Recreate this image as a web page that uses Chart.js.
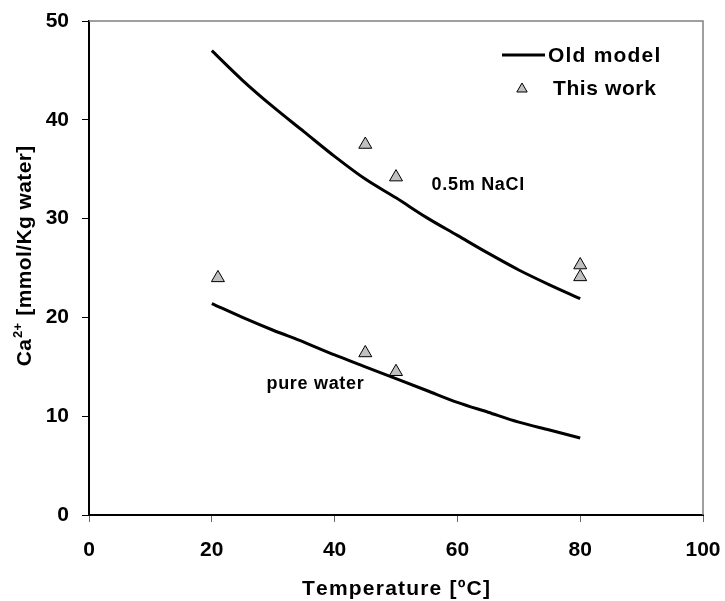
<!DOCTYPE html>
<html>
<head>
<meta charset="utf-8">
<script src="https://cdn.jsdelivr.net/npm/chart.js@4/dist/chart.umd.min.js"></script>
<style>
  html, body { margin: 0; padding: 0; background: #fff; }
  canvas { display: block; }
</style>
</head>
<body>
<canvas id="chart" width="725" height="601"></canvas>
<script>
// Model curves: Ca2+ solubility vs temperature
const modelTemps = [20, 25, 30, 35, 40, 45, 50, 55, 60, 65, 70, 75, 80];
const modelNaCl  = [47.0, 44.0, 41.3, 38.8, 36.3, 34.0, 32.1, 30.1, 28.3, 26.5, 24.8, 23.3, 21.9];
const modelPure  = [21.4, 20.0, 18.7, 17.5, 16.2, 15.0, 13.8, 12.6, 11.4, 10.4, 9.4, 8.6, 7.8];

// Measured points
const workTemps = [21, 45, 50, 45, 50, 80, 80];
const workCa    = [24.0, 16.4, 14.5, 37.5, 34.2, 25.3, 24.1];

// Axis ticks and text
const xTicks = [0, 20, 40, 60, 80, 100];
const yTicks = [0, 10, 20, 30, 40, 50];
const seriesNames = ['Old model', 'This work'];
const curveNames = ['0.5m NaCl', 'pure water'];
const xTitle = 'Temperature [\u00BAC]';
const yTitleParts = ['Ca', '2+', ' [mmol/Kg water]'];

const FONT = '"Liberation Sans", Arial, sans-serif';
const MARKER_FILL = '#c0c0c0';

const toXY = (xs, ys) => xs.map((v, i) => ({ x: v, y: ys[i] }));

function drawSpaced(ctx, text, x, y, spacing) {
  // draws text with extra spacing between letters, left-aligned
  let cx = x;
  for (const ch of text) {
    ctx.fillText(ch, cx, y);
    cx += ctx.measureText(ch).width + spacing;
  }
  return cx - x - spacing;
}
function spacedWidth(ctx, text, spacing) {
  let w = 0;
  for (const ch of text) w += ctx.measureText(ch).width + spacing;
  return w - spacing;
}

const decorations = {
  id: 'decorations',
  beforeDatasetsDraw(chart) {
    const { ctx, chartArea: a } = chart;
    ctx.save();
    ctx.strokeStyle = '#808080';
    ctx.lineWidth = 1.5;
    ctx.beginPath();
    ctx.moveTo(a.left, a.top);
    ctx.lineTo(a.right, a.top);
    ctx.lineTo(a.right, a.bottom);
    ctx.stroke();
    ctx.restore();
  },
  afterDraw(chart) {
    const { ctx, chartArea: a, scales: { x, y } } = chart;
    ctx.save();
    ctx.fillStyle = '#000';
    ctx.textBaseline = 'middle';
    ctx.textAlign = 'left';

    // curve annotations
    ctx.font = 'bold 18px ' + FONT;
    drawSpaced(ctx, curveNames[0], x.getPixelForValue(55.8), y.getPixelForValue(33.4), 0.7);
    drawSpaced(ctx, curveNames[1], x.getPixelForValue(28.9), y.getPixelForValue(13.3), 0.7);

    // legend
    ctx.strokeStyle = '#000';
    ctx.lineWidth = 3;
    ctx.beginPath();
    ctx.moveTo(502, 55);
    ctx.lineTo(545, 55);
    ctx.stroke();
    ctx.font = 'bold 21px ' + FONT;
    drawSpaced(ctx, seriesNames[0], 548, 56, 1.2);
    const r = 6;
    const tx = 522, ty = 89;
    ctx.beginPath();
    ctx.moveTo(tx, ty - r);
    ctx.lineTo(tx + r * Math.sin(2 * Math.PI / 3), ty - r * Math.cos(2 * Math.PI / 3));
    ctx.lineTo(tx + r * Math.sin(4 * Math.PI / 3), ty - r * Math.cos(4 * Math.PI / 3));
    ctx.closePath();
    ctx.fillStyle = MARKER_FILL;
    ctx.fill();
    ctx.lineWidth = 1;
    ctx.stroke();
    ctx.fillStyle = '#000';
    drawSpaced(ctx, seriesNames[1], 553, 89, 0.6);

    // x axis title
    ctx.textBaseline = 'alphabetic';
    ctx.font = 'bold 21px ' + FONT;
    const xw = spacedWidth(ctx, xTitle, 1.2);
    drawSpaced(ctx, xTitle, (a.left + a.right) / 2 - xw / 2, 595, 1.2);

    // y axis title (rotated, with superscript)
    ctx.translate(31, 0);
    ctx.rotate(-Math.PI / 2);
    const big = 'bold 21px ' + FONT, small = 'bold 13px ' + FONT;
    ctx.font = big;
    const w1 = spacedWidth(ctx, yTitleParts[0], 0.4);
    const w3 = spacedWidth(ctx, yTitleParts[2], 0.4);
    ctx.font = small;
    const w2 = spacedWidth(ctx, yTitleParts[1], 0.3);
    const total = w1 + w2 + w3 + 2;
    let pos = -(256 + total / 2);
    ctx.font = big;
    drawSpaced(ctx, yTitleParts[0], pos, 0, 0.4);
    pos += w1 + 1;
    ctx.font = small;
    drawSpaced(ctx, yTitleParts[1], pos, -9, 0.3);
    pos += w2 + 1;
    ctx.font = big;
    drawSpaced(ctx, yTitleParts[2], pos, 0, 0.4);
    ctx.restore();
  }
};

new Chart(document.getElementById('chart'), {
  type: 'line',
  data: {
    datasets: [
      {
        label: seriesNames[0],
        data: toXY(modelTemps, modelNaCl),
        borderColor: '#000',
        borderWidth: 3,
        pointRadius: 0,
        fill: false,
        cubicInterpolationMode: 'monotone'
      },
      {
        label: seriesNames[0],
        data: toXY(modelTemps, modelPure),
        borderColor: '#000',
        borderWidth: 3,
        pointRadius: 0,
        fill: false,
        cubicInterpolationMode: 'monotone'
      },
      {
        type: 'scatter',
        label: seriesNames[1],
        data: toXY(workTemps, workCa),
        pointStyle: 'triangle',
        pointRadius: 7.5,
        backgroundColor: MARKER_FILL,
        borderColor: '#000',
        borderWidth: 1,
        showLine: false
      }
    ]
  },
  options: {
    responsive: false,
    animation: false,
    events: [],
    layout: { padding: { top: 21, right: 22, left: 0, bottom: 0 } },
    plugins: { legend: { display: false }, tooltip: { enabled: false } },
    scales: {
      x: {
        type: 'linear',
        min: 0, max: 100,
        afterBuildTicks: s => { s.ticks = xTicks.map(v => ({ value: v })); },
        afterFit: s => { s.height = 86; s.paddingLeft = 0; s.paddingRight = 0; },
        border: { display: true, color: '#000', width: 2 },
        grid: { display: true, drawOnChartArea: false, drawTicks: true, tickLength: 7, color: '#666', lineWidth: 1 },
        ticks: { color: '#000', padding: 16, font: { family: FONT, size: 21, weight: 'bold' }, maxRotation: 0 }
      },
      y: {
        type: 'linear',
        min: 0, max: 50,
        afterBuildTicks: s => { s.ticks = yTicks.map(v => ({ value: v })); },
        afterFit: s => { s.width = 89; s.paddingTop = 0; s.paddingBottom = 0; },
        border: { display: true, color: '#000', width: 2 },
        grid: { display: true, drawOnChartArea: false, drawTicks: true, tickLength: 7, color: '#000', lineWidth: 1 },
        ticks: { color: '#000', padding: 13, font: { family: FONT, size: 21, weight: 'bold' } }
      }
    }
  },
  plugins: [decorations]
});
</script>
</body>
</html>
